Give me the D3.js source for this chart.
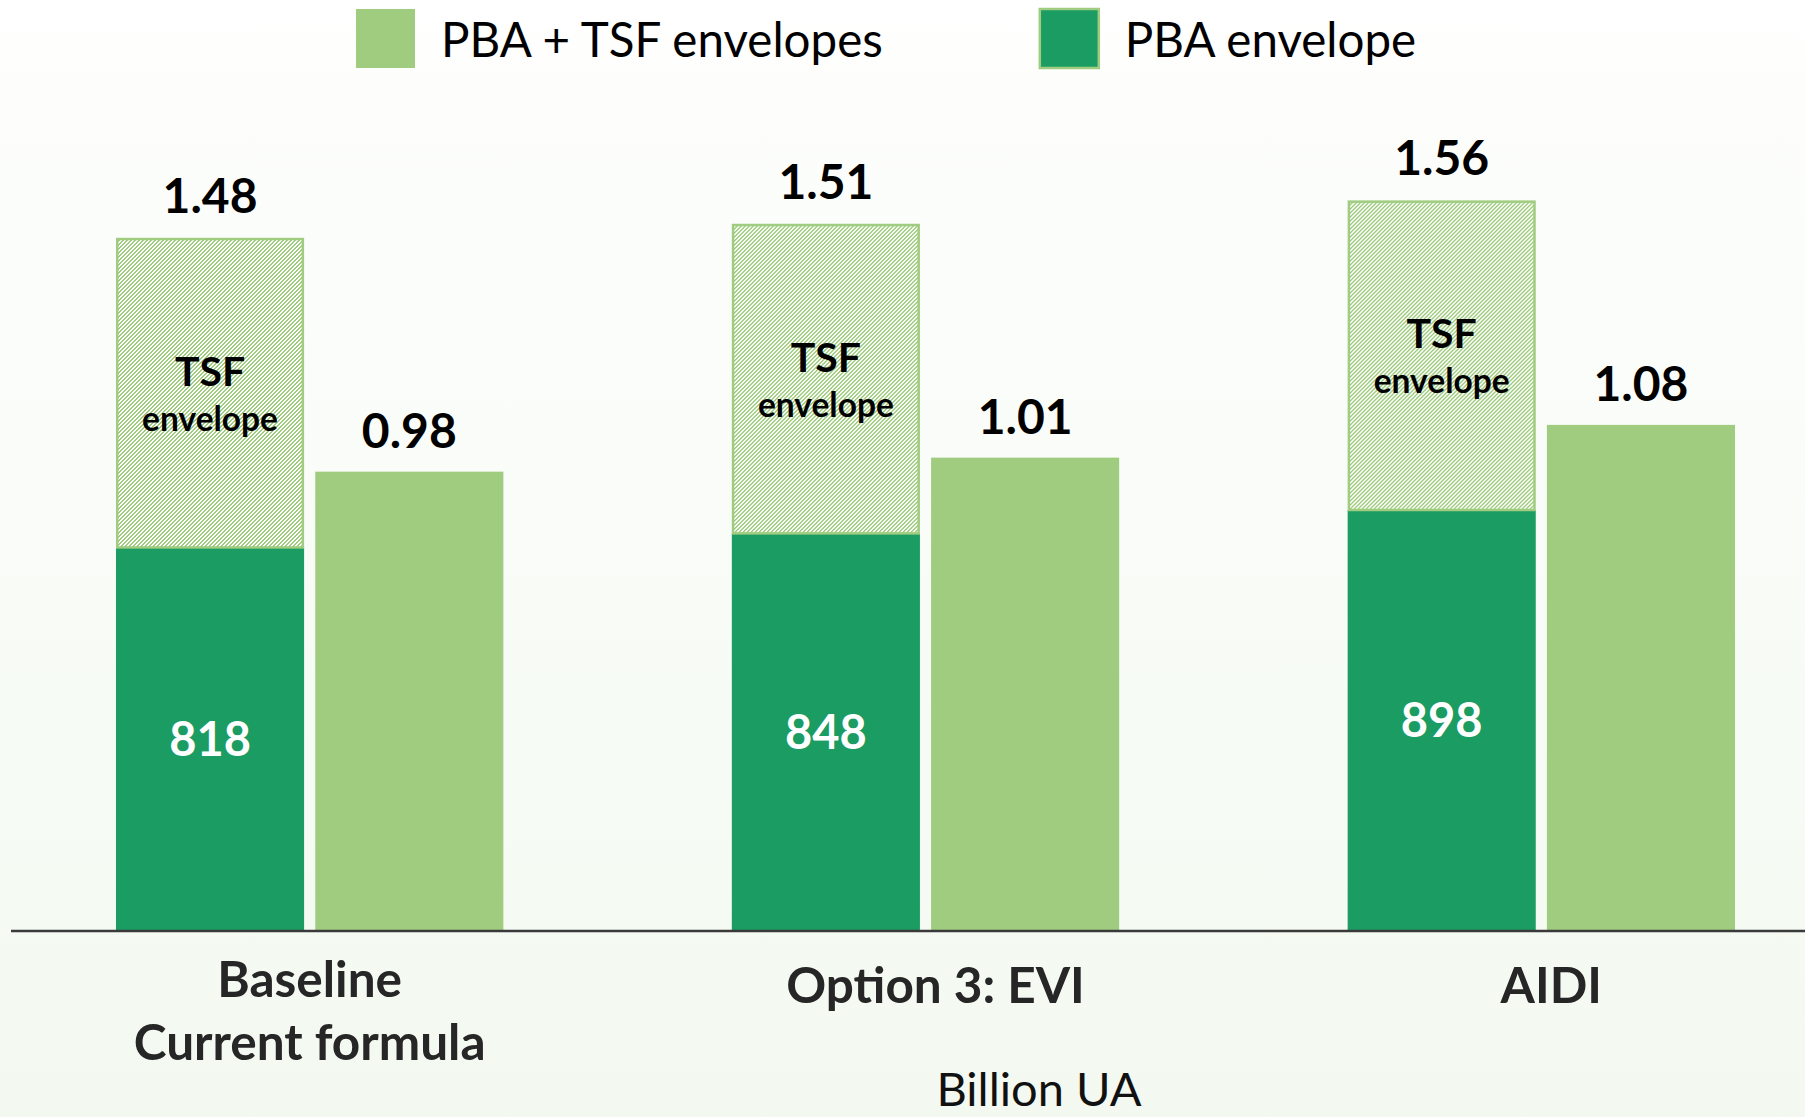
<!DOCTYPE html>
<html>
<head>
<meta charset="utf-8">
<script src="https://cdn.jsdelivr.net/npm/d3@7/dist/d3.min.js"></script>
<style>
  html, body { margin: 0; padding: 0; background: #ffffff; }
  svg { display: block; font-family: Lato, "Open Sans", "Noto Sans", sans-serif; }
</style>
</head>
<body>
<script>
// ---- data ----
const categories = [["Baseline", "Current formula"], ["Option 3: EVI"], ["AIDI"]];
const totalEnvelopes = [1.48, 1.51, 1.56];      // PBA + TSF (stacked, billion UA)
const pbaEnvelopes = [818, 848, 898];           // PBA envelope (million UA)
const pbaTsfEnvelopes = [0.98, 1.01, 1.08];     // PBA + TSF envelopes (single bar, billion UA)
const seriesKeys = ["stack", "single"];
const legendLabels = ["PBA + TSF envelopes", "PBA envelope"];
const tsfLabel = ["TSF", "envelope"];
const unitLabel = "Billion UA";

// ---- setup ----
const W = 1805, H = 1117;
const DARK = "#1b9c63", LIGHT = "#a0cc80";

const svg = d3.select("body").append("svg").attr("width", W).attr("height", H);
const defs = svg.append("defs");

const grad = defs.append("linearGradient").attr("id", "bg").attr("x1", 0).attr("y1", 0).attr("x2", 0).attr("y2", 1);
grad.append("stop").attr("offset", "0").attr("stop-color", "#ffffff");
grad.append("stop").attr("offset", "0.07").attr("stop-color", "#fdfefc");
grad.append("stop").attr("offset", "1").attr("stop-color", "#f3f9f1");

// pixel hatch, "/" direction, 4px period
const pat = defs.append("pattern").attr("id", "hatch")
  .attr("patternUnits", "userSpaceOnUse").attr("width", 4).attr("height", 4);
pat.append("rect").attr("width", 4).attr("height", 4).attr("fill", "#ffffff");
const hatchPx = [[2, 0], [3, 0], [1, 1], [2, 1], [0, 2], [1, 2], [3, 3], [0, 3]];
pat.selectAll("rect.px").data(hatchPx).join("rect").attr("class", "px")
  .attr("x", d => d[0]).attr("y", d => d[1]).attr("width", 1).attr("height", 1)
  .attr("fill", LIGHT).attr("shape-rendering", "crispEdges");

svg.append("rect").attr("width", W).attr("height", H).attr("fill", "url(#bg)");

const x0 = d3.scaleBand().domain(d3.range(categories.length))
  .range([116, 1735]).paddingInner(0.371).paddingOuter(0);
const x1 = d3.scaleBand().domain(seriesKeys).range([0, x0.bandwidth()]).paddingInner(0.056);
const y = d3.scaleLinear().domain([0, 2]).range([930, -5.4]);

// ---- legend ----
const legend = svg.append("g");
let lx = 356;
const legendFills = [LIGHT, DARK];
legendLabels.forEach((lab, i) => {
  legend.append("rect").attr("x", lx).attr("y", 9).attr("width", 59).attr("height", 59)
    .attr("fill", legendFills[i]).attr("stroke", LIGHT).attr("stroke-width", i === 1 ? 2.5 : 0);
  const t = legend.append("text").attr("x", lx + 85).attr("y", 57)
    .attr("font-size", 47.5).attr("fill", "#000").text(lab);
  lx = lx + 85 + t.node().getComputedTextLength() + 157;
});

// ---- bars ----
const groups = svg.append("g").selectAll("g").data(categories).join("g")
  .attr("transform", (d, i) => `translate(${x0(i)},0)`);

// PBA (dark) part of stacked bar
groups.append("rect")
  .attr("x", x1("stack")).attr("width", x1.bandwidth())
  .attr("y", (d, i) => y(pbaEnvelopes[i] / 1000))
  .attr("height", (d, i) => y(0) - y(pbaEnvelopes[i] / 1000))
  .attr("fill", DARK);

// TSF hatched part
groups.append("rect")
  .attr("x", x1("stack") + 1.25).attr("width", x1.bandwidth() - 2.5)
  .attr("y", (d, i) => y(totalEnvelopes[i]) + 1.25)
  .attr("height", (d, i) => y(pbaEnvelopes[i] / 1000) - y(totalEnvelopes[i]) - 1.25)
  .attr("fill", "url(#hatch)").attr("stroke", LIGHT).attr("stroke-width", 2.5);

// single light bar
groups.append("rect")
  .attr("x", x1("single")).attr("width", x1.bandwidth())
  .attr("y", (d, i) => y(pbaTsfEnvelopes[i]))
  .attr("height", (d, i) => y(0) - y(pbaTsfEnvelopes[i]))
  .attr("fill", LIGHT);

// ---- labels on bars ----
const cxS = x1("stack") + x1.bandwidth() / 2;
const cxL = x1("single") + x1.bandwidth() / 2;

groups.append("text").attr("x", cxS).attr("y", (d, i) => y(totalEnvelopes[i]) - 25)
  .attr("text-anchor", "middle").attr("font-size", 48).attr("font-weight", 700).attr("fill", "#000")
  .text((d, i) => d3.format(".2f")(totalEnvelopes[i]));

groups.append("text").attr("x", cxL).attr("y", (d, i) => y(pbaTsfEnvelopes[i]) - 24)
  .attr("text-anchor", "middle").attr("font-size", 48).attr("font-weight", 700).attr("fill", "#000")
  .text((d, i) => d3.format(".2f")(pbaTsfEnvelopes[i]));

groups.append("text").attr("x", cxS)
  .attr("y", (d, i) => (y(pbaEnvelopes[i] / 1000) + y(0)) / 2 + 17)
  .attr("text-anchor", "middle").attr("font-size", 47).attr("font-weight", 700).attr("fill", "#ffffff")
  .text((d, i) => pbaEnvelopes[i]);

groups.each(function (d, i) {
  const mid = (y(totalEnvelopes[i]) + y(pbaEnvelopes[i] / 1000)) / 2;
  const g = d3.select(this);
  g.append("text").attr("x", cxS).attr("y", mid - 7).attr("text-anchor", "middle")
    .attr("font-size", 41).attr("font-weight", 700).attr("fill", "#000").text(tsfLabel[0]);
  g.append("text").attr("x", cxS).attr("y", mid + 38).attr("text-anchor", "middle")
    .attr("font-size", 33.5).attr("font-weight", 700).attr("fill", "#000").text(tsfLabel[1]);
});

// ---- axis ----
svg.append("line").attr("x1", 11).attr("x2", W).attr("y1", 931).attr("y2", 931)
  .attr("stroke", "#3a3a3a").attr("stroke-width", 2.5);

groups.each(function (d, i) {
  const t = d3.select(this).append("text").attr("text-anchor", "middle")
    .attr("font-size", 49.5).attr("font-weight", 700).attr("fill", "#262626");
  d.forEach((line, j) => {
    t.append("tspan").attr("x", x0.bandwidth() / 2 + (d.length > 1 ? 0 : 10))
      .attr("y", 1003 - (d.length - 1) * 6 + j * 63).text(line);
  });
});

svg.append("text").attr("x", 1039).attr("y", 1106).attr("text-anchor", "middle")
  .attr("font-size", 47).attr("fill", "#111").text(unitLabel);
</script>
</body>
</html>
